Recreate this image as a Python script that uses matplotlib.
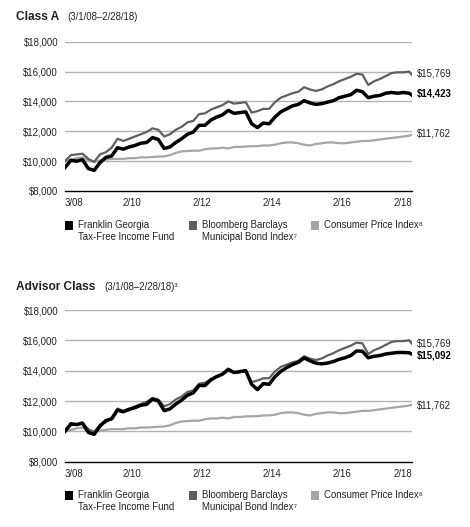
import matplotlib
matplotlib.use("Agg")
import matplotlib.pyplot as plt
from matplotlib.patches import Rectangle

# ---------------- data ----------------
months = [0, 2, 4, 6, 8, 10, 12, 14, 16, 18, 20, 22, 24, 26, 28, 30, 32, 34, 36, 38,
          40, 42, 44, 46, 48, 50, 52, 54, 56, 58, 60, 62, 64, 66, 68, 70, 72, 74, 76, 78,
          80, 82, 84, 86, 88, 90, 92, 94, 96, 98, 100, 102, 104, 106, 108, 110, 112, 114,
          116, 118, 119]

fund_a = [9575, 10050, 10000, 10100, 9500, 9380, 9900, 10250, 10350, 10900, 10800, 10950,
          11050, 11200, 11250, 11580, 11450, 10850, 10950, 11250, 11500, 11800, 11950, 12400,
          12400, 12750, 12950, 13100, 13400, 13200, 13250, 13300, 12500, 12250, 12550, 12500,
          12950, 13300, 13500, 13700, 13800, 14050, 13900, 13800, 13850, 13950, 14050, 14250,
          14350, 14450, 14750, 14650, 14250, 14350, 14400, 14550, 14600, 14550, 14600, 14550,
          14423]

fund_adv = [10000, 10500, 10450, 10550, 9930, 9800, 10350, 10710, 10820, 11400, 11290, 11450,
            11560, 11720, 11780, 12130, 12000, 11370, 11480, 11800, 12060, 12380, 12540, 13020,
            13020, 13390, 13610, 13770, 14090, 13880, 13940, 14000, 13100, 12750, 13150, 13100,
            13600, 13950, 14200, 14400, 14550, 14840, 14650, 14500, 14450, 14500, 14600, 14750,
            14850, 15000, 15300, 15280, 14850, 14950, 15000, 15100, 15150, 15200, 15200, 15180,
            15092]

muni_index = [10000, 10400, 10450, 10500, 10150, 9950, 10450, 10600, 10900, 11500, 11350, 11500,
              11650, 11800, 11950, 12200, 12100, 11650, 11800, 12100, 12300, 12600, 12700, 13150,
              13200, 13450, 13600, 13750, 14000, 13850, 13900, 13950, 13250, 13350, 13500, 13500,
              13950, 14250, 14400, 14550, 14650, 14950, 14800, 14700, 14800, 15000, 15150, 15350,
              15500, 15650, 15850, 15800, 15100, 15350, 15500, 15700, 15900, 15950, 15950, 16000,
              15769]

cpi = [10000, 10100, 10200, 10250, 10050, 9950, 10050, 10100, 10150, 10150, 10150, 10200,
       10200, 10250, 10250, 10280, 10300, 10320, 10400, 10550, 10650, 10680, 10700, 10700,
       10800, 10850, 10850, 10900, 10850, 10950, 10950, 10980, 11000, 11000, 11050, 11050,
       11100, 11200, 11250, 11250, 11200, 11100, 11050, 11150, 11200, 11250, 11250, 11200,
       11200, 11250, 11300, 11350, 11350, 11400, 11450, 11500, 11550, 11600, 11650, 11700,
       11762]

x_tick_pos = [0, 23, 47, 71, 95, 119]
x_tick_labels = ["3/08", "2/10", "2/12", "2/14", "2/16", "2/18"]
y_ticks = [8000, 10000, 12000, 14000, 16000, 18000]
y_tick_labels = ["$8,000", "$10,000", "$12,000", "$14,000", "$16,000", "$18,000"]

legend_names = ["Franklin Georgia\nTax-Free Income Fund",
                "Bloomberg Barclays\nMunicipal Bond Index\u2077",
                "Consumer Price Index\u2078"]

# ---------------- style ----------------
W, H = 470, 527
NARROW = ["Liberation Sans Narrow", "Liberation Sans", "DejaVu Sans"]
SANS = ["Liberation Sans", "DejaVu Sans"]
C_FUND = "#000000"
C_IDX = "#5f5f5f"
C_CPI = "#a6a6a6"
C_GRID = "#b4b4b4"
FS = 6.9

fig = plt.figure(figsize=(W / 100, H / 100), dpi=100)
fig.patch.set_facecolor("white")


def fx(px):
    return px / W


def fy(py):
    return 1 - py / H


def make_panel(top_px, bottom_px, fund, fund_label, title, subtitle, sub_x,
               title_y, label_ys, legend_y):
    ax = fig.add_axes([fx(65), fy(bottom_px), fx(412) - fx(65), fy(top_px) - fy(bottom_px)])
    ax.set_xlim(0, 119)
    ax.set_ylim(8000, 18000)
    for yv in y_ticks[1:]:
        ax.axhline(yv, color=C_GRID, lw=1.0, zorder=0)
    ax.plot(months, cpi, color=C_CPI, lw=1.6, zorder=2, solid_joinstyle="round")
    ax.plot(months, muni_index, color=C_IDX, lw=1.6, zorder=3, solid_joinstyle="round")
    ax.plot(months, fund, color=C_FUND, lw=2.5, zorder=4, solid_joinstyle="round")
    for s in ["top", "right", "left"]:
        ax.spines[s].set_visible(False)
    ax.spines["bottom"].set_color("black")
    ax.spines["bottom"].set_linewidth(1.0)
    ax.set_yticks(y_ticks)
    ax.set_yticklabels(y_tick_labels, family=NARROW, fontsize=FS, color="#222222")
    ax.set_xticks(x_tick_pos)
    ax.set_xticklabels(x_tick_labels, family=NARROW, fontsize=FS, color="#222222")
    ax.tick_params(axis="both", length=0)
    ax.tick_params(axis="y", pad=5)
    ax.tick_params(axis="x", pad=5)
    xl = ax.get_xticklabels()
    xl[0].set_ha("left")
    xl[-1].set_ha("right")

    # titles
    fig.text(fx(16), fy(title_y), title, family=SANS, fontsize=8.6, weight="bold",
             va="center", ha="left", color="#222222")
    fig.text(fx(sub_x), fy(title_y), subtitle, family=NARROW, fontsize=FS,
             va="center", ha="left", color="#222222")

    # end labels
    fig.text(fx(417), fy(label_ys[0]), "$15,769", family=NARROW, fontsize=FS,
             va="center", ha="left", color="#222222")
    fig.text(fx(417), fy(label_ys[1]), fund_label, family=NARROW, fontsize=FS,
             weight="bold", va="center", ha="left", color="#000000")
    fig.text(fx(417), fy(label_ys[2]), "$11,762", family=NARROW, fontsize=FS,
             va="center", ha="left", color="#222222")

    # legend
    for sq_x, txt_x, col, name in zip([65, 189, 311], [78, 202, 324],
                                      [C_FUND, C_IDX, C_CPI], legend_names):
        fig.patches.append(Rectangle((fx(sq_x), fy(legend_y + 4.5)), fx(8), fy(0) - fy(9),
                                     transform=fig.transFigure, facecolor=col,
                                     edgecolor="none"))
        fig.text(fx(txt_x), fy(legend_y - 5.5), name, family=NARROW, fontsize=FS,
                 va="top", ha="left", color="#222222", linespacing=1.35)
    return ax


make_panel(41.7, 191, fund_a, "$14,423", "Class A", "(3/1/08\u20132/28/18)", 67,
           16.5, [73, 94, 134], 225)
make_panel(310, 461.7, fund_adv, "$15,092", "Advisor Class", "(3/1/08\u20132/28/18)\u00b3", 104,
           287, [344, 355, 405.7], 495)

fig.savefig("out.png", dpi=100, facecolor="white")
